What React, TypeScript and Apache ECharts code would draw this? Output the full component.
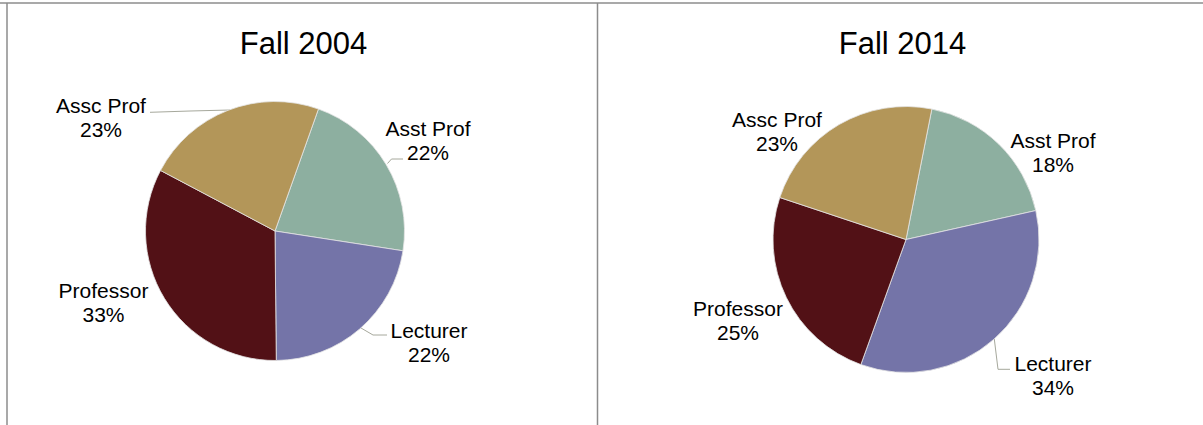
import React, { useEffect, useRef } from "react";
import * as echarts from "echarts";

const categories = ["Asst Prof", "Lecturer", "Professor", "Assc Prof"];
const fall2004 = [22.0, 22.4, 32.9, 22.7];
const fall2014 = [18.4, 34.0, 24.6, 23.0];
const titles = ["Fall 2004", "Fall 2014"];

const sliceColors = ["#8DAFA0", "#7474A8", "#521116", "#B39659"];
const FONT = '"Liberation Sans", Arial, sans-serif';
const LINE_COLOR = "#a6a89c";

// label layout per slice: [centerX, centerY, leaderLine points or null]
const leftLabels: [number, number, number[][] | null][] = [
  [428, 140, [[387.5, 163.5], [391.5, 159], [403, 159]]],
  [429, 342, [[361, 328], [373, 335], [387, 335]]],
  [103.5, 302, null],
  [101, 117.5, [[150, 112.3], [190, 111], [230, 110]]],
];
const rightLabels: [number, number, number[][] | null][] = [
  [1053, 152.5, null],
  [1053, 375, [[994.3, 339], [998, 369.3], [1010, 369.3]]],
  [738, 320, null],
  [777, 131, null],
];

function buildSeries(values: number[], center: number[], radius: number, startAngle: number, layout: any[]) {
  return {
    type: "pie",
    center,
    radius,
    startAngle,
    clockwise: true,
    avoidLabelOverlap: false,
    itemStyle: { borderColor: "#e4e4e4", borderWidth: 0.8 },
    label: {
      show: true,
      position: "outside",
      color: "#000",
      fontFamily: FONT,
      fontSize: 21,
      lineHeight: 24,
      formatter: (p: any) => `${p.name}\n${Math.round(p.percent)}%`,
    },
    labelLine: { show: true, lineStyle: { color: LINE_COLOR, width: 1 } },
    labelLayout: (params: any) => {
      const l = layout[params.dataIndex];
      const out: any = { x: l[0], y: l[1], align: "center", verticalAlign: "middle" };
      if (l[2]) out.labelLinePoints = l[2];
      return out;
    },
    emphasis: { disabled: true },
    data: categories.map((name, i) => ({
      name,
      value: values[i],
      itemStyle: { color: sliceColors[i] },
      labelLine: { show: !!layout[i][2] },
    })),
  };
}

export default function App() {
  const ref = useRef<HTMLDivElement>(null);
  useEffect(() => {
    document.body.style.margin = "0";
    if (!ref.current) return;
    const chart = echarts.init(ref.current, null, { renderer: "svg" });
    const frame = { stroke: "#8c8c8c", lineWidth: 1.5 };
    chart.setOption({
      animation: false,
      backgroundColor: "#ffffff",
      graphic: [
        { type: "line", shape: { x1: 0, y1: 3, x2: 1203, y2: 3 }, style: frame },
        { type: "line", shape: { x1: 7, y1: 3, x2: 7, y2: 425 }, style: frame },
        { type: "line", shape: { x1: 597.5, y1: 3, x2: 597.5, y2: 425 }, style: frame },
        {
          type: "text",
          x: 303.5,
          y: 43.5,
          style: { text: titles[0], fill: "#000", font: `31px ${FONT}`, align: "center", verticalAlign: "middle", textAlign: "center", textVerticalAlign: "middle" },
        },
        {
          type: "text",
          x: 902.5,
          y: 43.5,
          style: { text: titles[1], fill: "#000", font: `31px ${FONT}`, align: "center", verticalAlign: "middle", textAlign: "center", textVerticalAlign: "middle" },
        },
      ],
      series: [
        buildSeries(fall2004, [275, 231], 129.5, 70.4, leftLabels),
        buildSeries(fall2014, [906, 239.5], 133, 78.8, rightLabels),
      ],
    });
    return () => chart.dispose();
  }, []);
  return <div ref={ref} style={{ width: 1203, height: 425 }} />;
}
